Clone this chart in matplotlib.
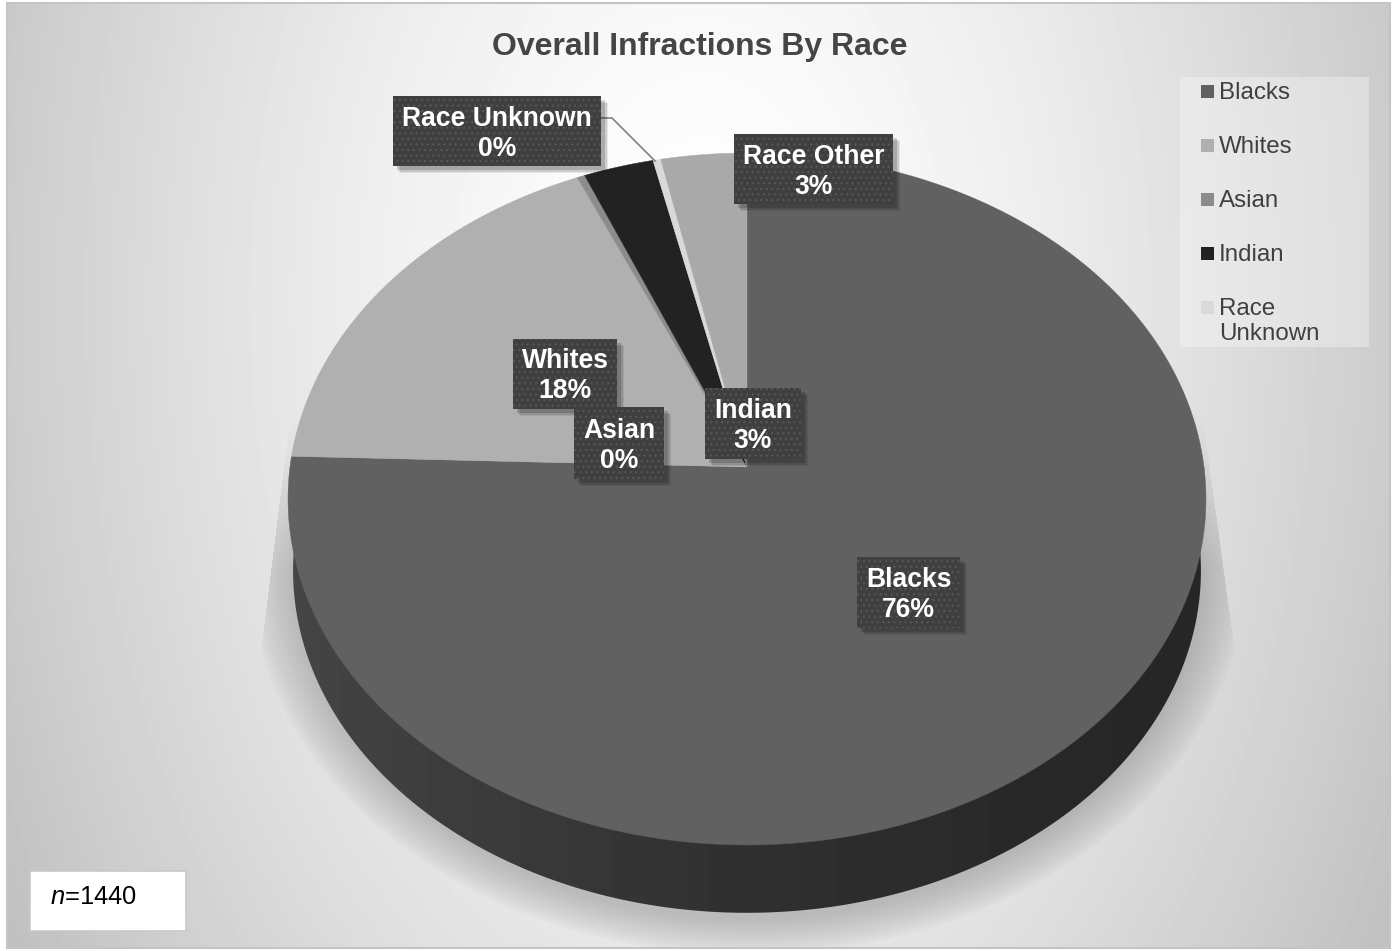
import numpy as np
import matplotlib

matplotlib.use("Agg")
import matplotlib.pyplot as plt
import matplotlib.patches as mpatches

plt.rcParams.update(
    {
        "font.family": ["Liberation Sans", "DejaVu Sans"],
        "mathtext.fontset": "custom",
        "mathtext.it": "Liberation Sans:italic",
        "mathtext.rm": "Liberation Sans",
        "hatch.linewidth": 0.9,
    }
)

W, H = 1393, 951

# clockwise from 12 o'clock, percent
races = ["Blacks", "Whites", "Asian", "Indian", "Race Unknown", "Race Other"]
shares = [75.5, 17.9, 0.3, 2.7, 0.3, 3.3]
shown = ["76%", "18%", "0%", "3%", "0%", "3%"]
colors = ["#616161", "#b0b0b0", "#8c8c8c", "#222222", "#d9d9d9", "#a9a9a9"]

legend_names = ["Blacks", "Whites", "Asian", "Indian", "Race\nUnknown"]
legend_colors = ["#616161", "#b0b0b0", "#8c8c8c", "#222222", "#d9d9d9"]
legend_y = [91, 145, 199, 253, 307]

# label boxes: x0, x1, y0, y1
label_boxes = {
    "Blacks": (857, 960, 557, 628),
    "Whites": (513, 617, 339, 409),
    "Asian": (574, 664, 407, 479),
    "Indian": (705, 801, 388, 459),
    "Race Unknown": (393, 601, 96, 166),
    "Race Other": (734, 893, 134, 204),
}
draw_order = ["Blacks", "Whites", "Asian", "Indian", "Race Unknown", "Race Other"]

# pie geometry in pixels
CX, CY = 747, 467
RX, RY, K = 457, 343, 0.0925
DEPTH = 72


def project(theta, r=1.0, cy=CY, scale=1.0):
    """theta clockwise from the back of the pie, perspective squash."""
    u = r * np.sin(theta)
    v = r * np.cos(theta)
    w = 1 + K * v
    return CX + scale * RX * u / w, cy - scale * RY * v / w


def background():
    yy, xx = np.mgrid[0:H, 0:W]
    r = np.sqrt(((xx - 700) / 700.0) ** 2 + ((yy - 300) / 1100.0) ** 2)
    img = 255 - 52 * r**1.5
    # soft shadow below the pie
    bx = (xx - CX) / (RX * 0.99)
    by = (yy - (CY + DEPTH + 26)) / (RY * 1.03)
    rho = np.sqrt(bx**2 + by**2)
    d = (rho - 1) * 400
    sh = np.clip(1 - d / 42, 0, 1) ** 0.8
    sh *= np.clip((yy - 400) / 170.0, 0, 1)
    # hard side edges of the shadow above y=700
    right = 1200 + (yy - 400) * 42 / 307.0
    left = 292 - (yy - 400) * 37 / 295.0
    sh[((xx > right) | (xx < left)) & (yy < 705)] = 0
    img = img * (1 - 0.2 * sh)
    return np.clip(img, 0, 255)


fig = plt.figure(figsize=(W / 100, H / 100), dpi=100, facecolor="white")
ax = fig.add_axes([0, 0, 1, 1])
ax.set_xlim(0, W)
ax.set_ylim(H, 0)
ax.axis("off")

# panel
bg = ax.imshow(
    background(), cmap="gray", vmin=0, vmax=255, extent=(0, W, H, 0),
    aspect="auto", zorder=0, interpolation="bilinear",
)
panel = mpatches.Rectangle((7, 3), 1383, 945, fc="none", ec="#c4c4c4", lw=1.5, zorder=1)
ax.add_patch(panel)
bg.set_clip_path(panel)

# side wall of the pie
t = np.linspace(np.pi * 0.47, np.pi * 1.53, 300)
sx, sy = project(t, cy=CY + DEPTH, scale=0.989)
side = mpatches.Polygon(np.column_stack([np.r_[sx, CX], np.r_[sy, CY]]), fc="none", ec="none", zorder=2)
ax.add_patch(side)
grad = np.interp(np.arange(W), [280, 420, 750, 1100, 1210], [70, 62, 48, 39, 38])
side_im = ax.imshow(
    grad[None, :], cmap="gray", vmin=0, vmax=255, extent=(0, W, H, 0),
    aspect="auto", zorder=2,
)
side_im.set_clip_path(side)

# top face
edges = np.r_[0, np.cumsum(shares)] / np.sum(shares) * 2 * np.pi
for i, name in enumerate(races):
    a = np.linspace(edges[i], edges[i + 1], 400)
    px, py = project(a)
    ax.fill(np.r_[CX, px], np.r_[CY, py], fc=colors[i], ec=colors[i], lw=0.3, zorder=3)

# leader line for Race Unknown
ax.plot([601, 612, 655], [118, 118, 161], color="#808080", lw=1.2, zorder=4)

# data labels
for j, name in enumerate(draw_order):
    x0, x1, y0, y1 = label_boxes[name]
    z = 5 + j * 0.1
    for off, al in [(7, 0.07), (5.5, 0.12), (4, 0.16)]:
        ax.add_patch(mpatches.Rectangle((x0 + off, y0 + off), x1 - x0, y1 - y0, fc="black", alpha=al, ec="none", zorder=z))
    ax.add_patch(mpatches.Rectangle((x0, y0), x1 - x0, y1 - y0, fc="#3f3f3f", ec="#565656", lw=0, hatch="...", zorder=z))
    ax.text(
        (x0 + x1) / 2, (y0 + y1) / 2 + 2.5, name + "\n" + shown[races.index(name)],
        color="white", fontsize=19.1, fontweight="bold", ha="center", va="center",
        linespacing=1.2, zorder=z + 0.01,
    )

# title
ax.text(699.5, 47, "Overall Infractions By Race", color="#454545", fontsize=23, fontweight="bold", ha="center", va="center", zorder=6)

# legend
ax.add_patch(mpatches.Rectangle((1180, 77), 189, 270, fc="white", alpha=0.32, ec="none", zorder=4))
for name, c, y in zip(legend_names, legend_colors, legend_y):
    ax.add_patch(mpatches.Rectangle((1201, y - 6.5), 13, 13, fc=c, ec="none", zorder=5))
    ax.text(1219, y - 9, name, color="#404040", fontsize=17.4, ha="left", va="top", linespacing=1.19, zorder=5)

# sample size box
ax.add_patch(mpatches.Rectangle((30, 871), 156, 60, fc="white", ec="#c8c8c8", lw=1.2, zorder=5))
ax.text(49.5, 897, r"$\mathit{n}$=1440", color="black", fontsize=18.4, ha="left", va="center", zorder=6)

fig.savefig("out.png", dpi=100, facecolor="white")
